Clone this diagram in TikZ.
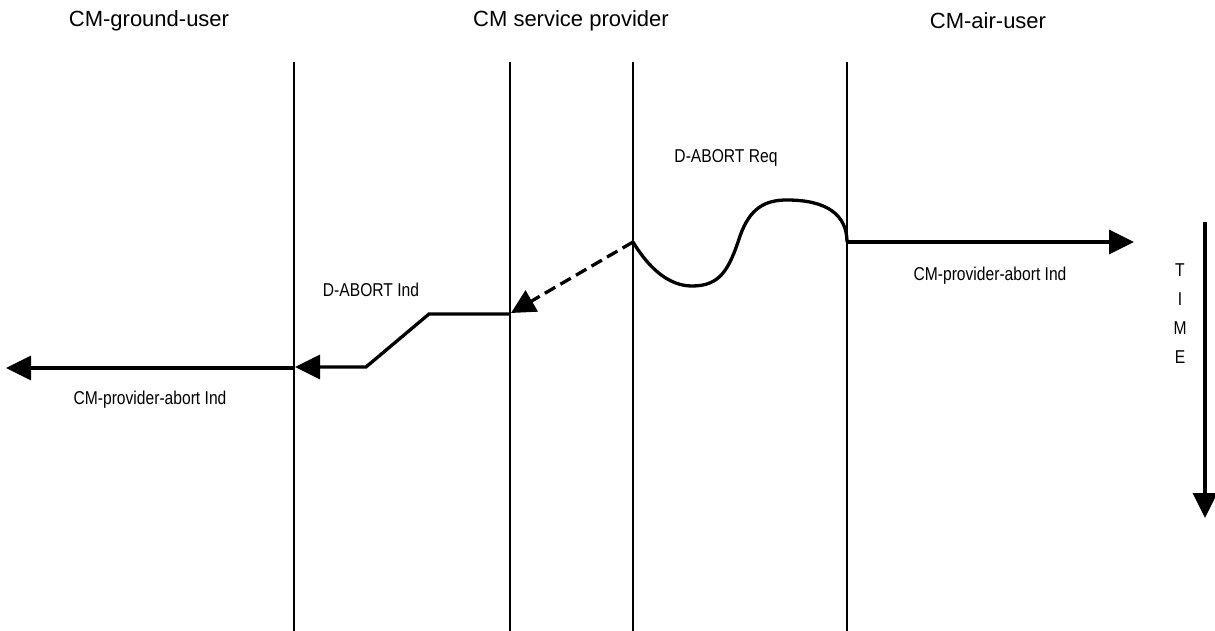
\documentclass[tikz,border=0pt]{standalone}
\usepackage{fontspec}
\setmainfont{Liberation Sans}
\usetikzlibrary{arrows.meta}
% labels are set in a slightly condensed face
\newcommand{\condensed}[1]{\scalebox{0.84}[1]{#1}}
\begin{document}
\begin{tikzpicture}[x=1pt,y=-1pt,
  lifeline/.style={line width=1.7pt},
  msg/.style={line width=3.3pt,line join=miter},
  tip/.style={-{Triangle[length=25pt,width=24pt]}},
  header/.style={font=\fontsize{22}{24}\selectfont,inner sep=0pt},
  lbl/.style={font=\fontsize{18.6}{20}\selectfont,inner sep=0pt}]
\useasboundingbox (0,0) rectangle (1215,631);

% lifelines
\coordinate (l1t) at (294,62);  \coordinate (l1b) at (294,631);
\coordinate (l2t) at (510,62);  \coordinate (l2b) at (510,631);
\coordinate (l3t) at (633,62);  \coordinate (l3b) at (633,631);
\coordinate (l4t) at (847,62);  \coordinate (l4b) at (847,631);
\foreach \i in {1,2,3,4} \draw[lifeline] (l\i t) -- (l\i b);

% headers
\node[header] (hground) at (149,21) {CM-ground-user};
\node[header] (hprov) at (571,21) {CM service provider};
\node[header] (hair) at (988,21) {CM-air-user};

% message points
\coordinate (reqs) at (633,242);
\coordinate (reqe) at (847,242);
\coordinate (airend) at (1134,242);
\coordinate (dtip) at (511,313);
\coordinate (inds) at (510,314);
\coordinate (indk1) at (429,314);
\coordinate (indk2) at (366,367);
\coordinate (indtip) at (295,367);
\coordinate (gstart) at (294,368);
\coordinate (gend) at (6,368);

% D-ABORT Req wave
\draw[msg] (reqs) .. controls (650,270) and (670,286) .. (692,286)
  .. controls (720,286) and (729,270) .. (740,236)
  .. controls (750,208) and (765,200) .. (787,200)
  .. controls (827,200) and (847,215) .. (reqe);

% CM-provider-abort Ind to air user
\draw[msg,tip] (reqe) -- (airend);

% dashed D-ABORT towards provider
\draw[msg,dash pattern=on 12pt off 6pt,
  -{Triangle[length=24pt,width=24pt]}] (reqs) -- (dtip);

% D-ABORT Ind
\draw[msg,tip] (inds) -- (indk1) -- (indk2) -- (indtip);

% CM-provider-abort Ind to ground user
\draw[msg,tip] (gstart) -- (gend);

% labels
\node[lbl] (lreq) at (726,158) {\condensed{D-ABORT Req}};
\node[lbl] (lind) at (371,290) {\condensed{D-ABORT Ind}};
\node[lbl] (labair) at (990,276) {\condensed{CM-provider-abort Ind}};
\node[lbl] (labgr) at (150,400) {\condensed{CM-provider-abort Ind}};

% time axis
\coordinate (ttop) at (1205,222);
\coordinate (tbot) at (1205,518);
\draw[msg,tip] (ttop) -- (tbot);
\node[lbl,align=center] (ltime) at (1180,314)
  {\condensed{T}\\[9pt]\condensed{I}\\[9pt]\condensed{M}\\[9pt]\condensed{E}};
\end{tikzpicture}
\end{document}
